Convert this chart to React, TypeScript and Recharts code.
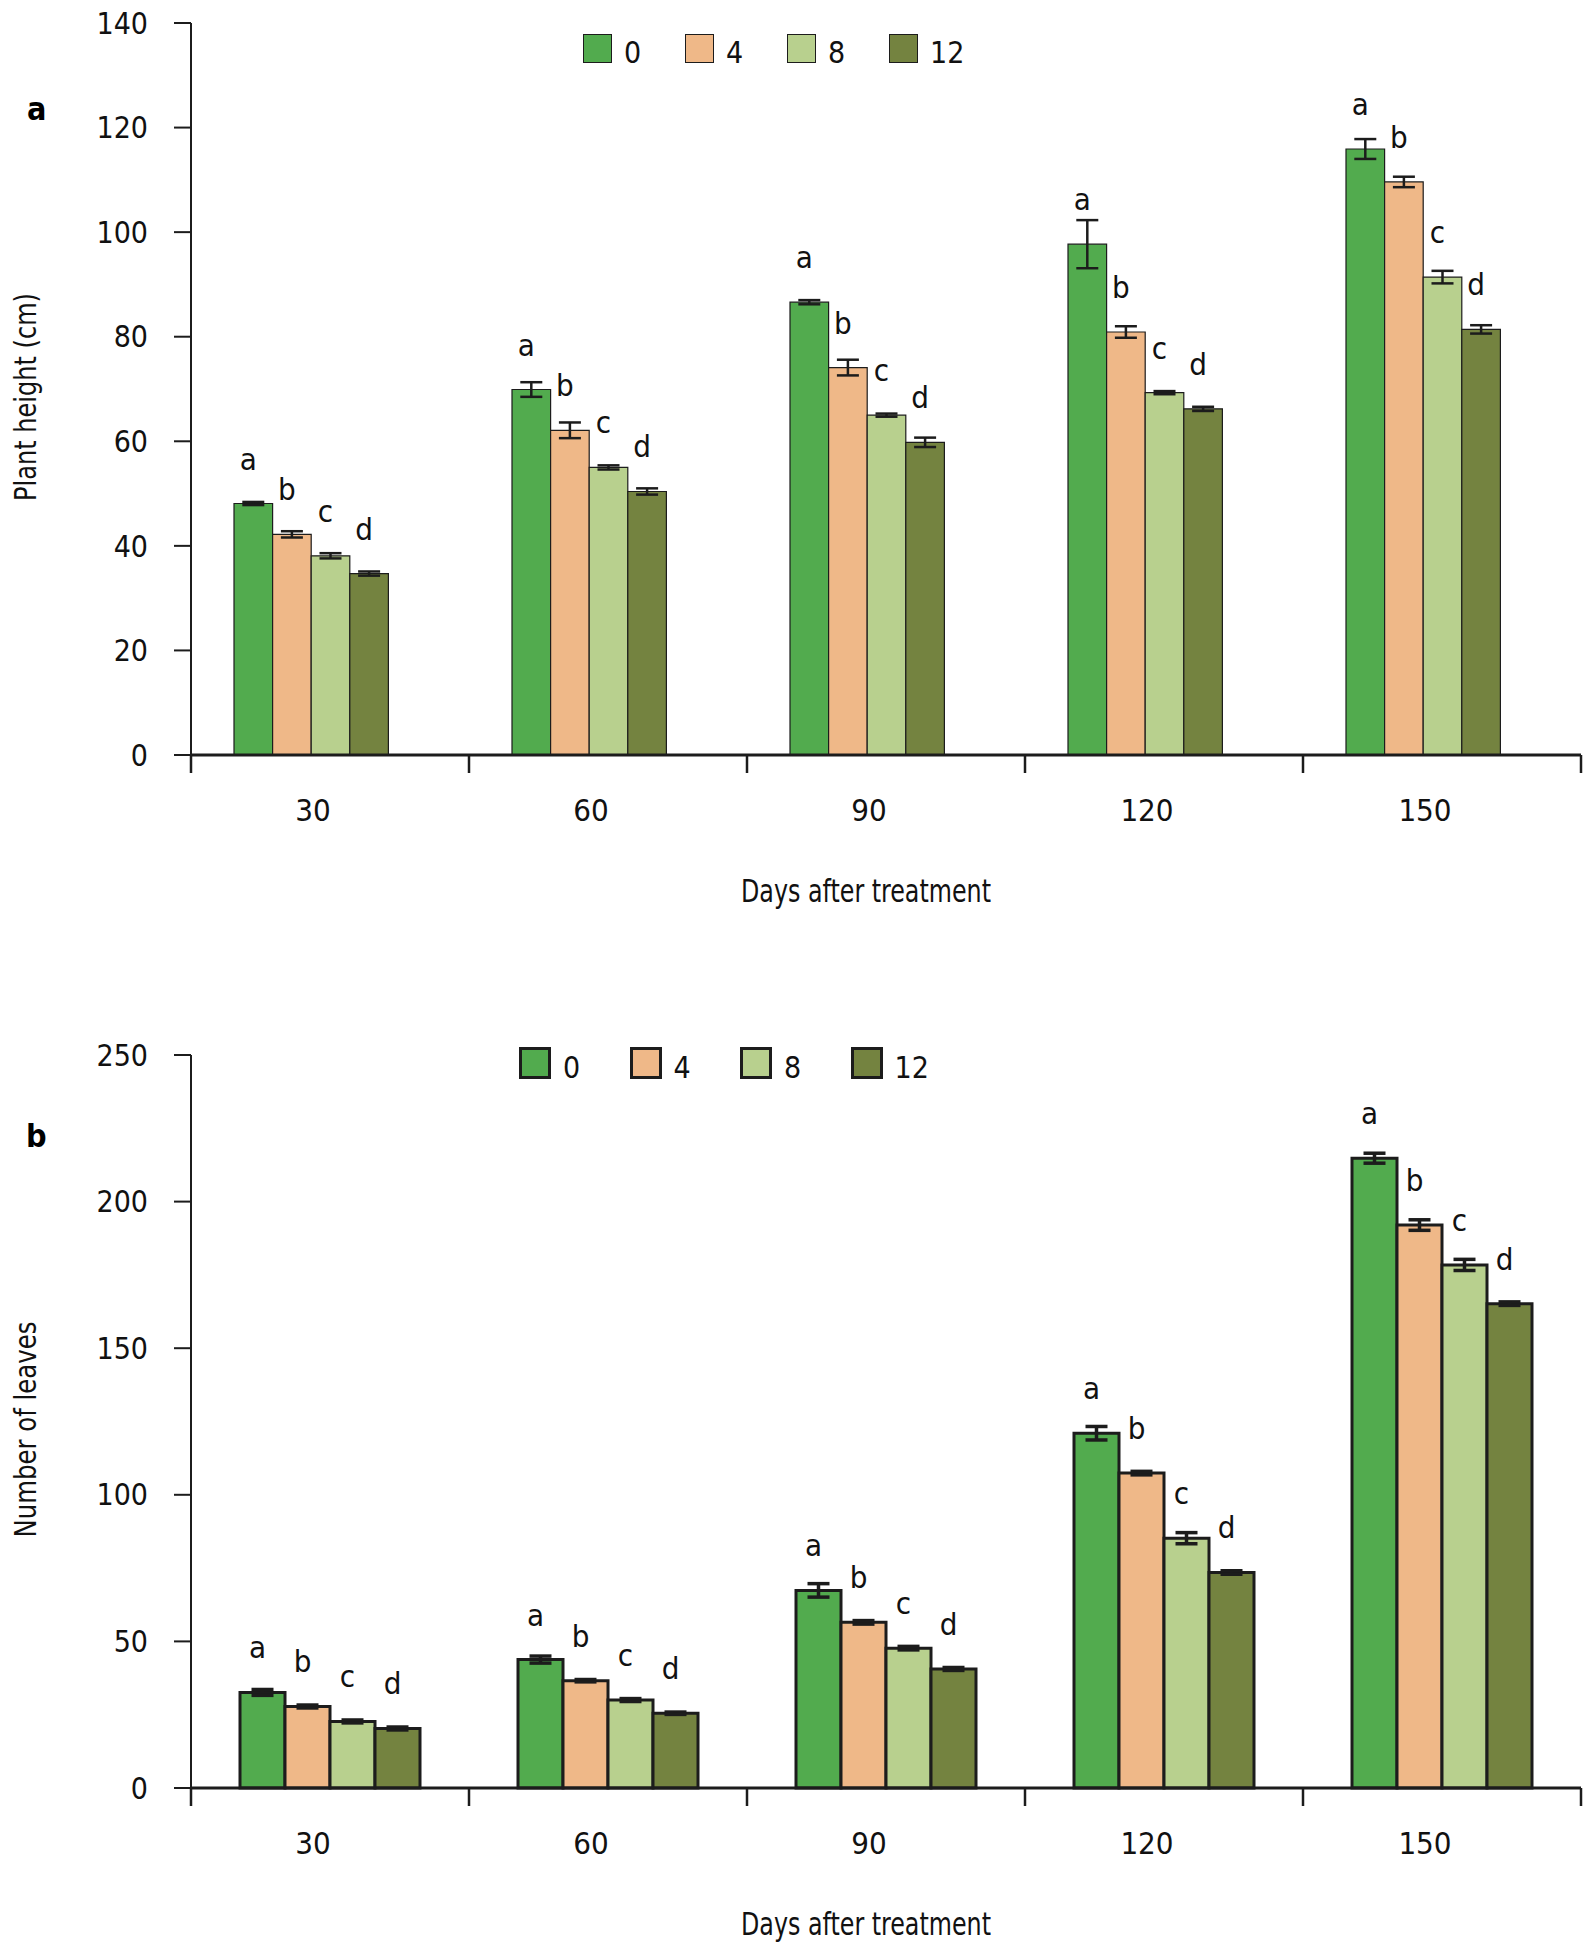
import React from "react";
import { BarChart, Bar, XAxis, YAxis, ErrorBar, LabelList, Label } from "recharts";

const DAYS = ["30", "60", "90", "120", "150"];

// plant height (cm), per salt level
const HEIGHT_0 = [48.1, 69.9, 86.6, 97.7, 115.9];
const HEIGHT_4 = [42.2, 62.1, 74.1, 80.9, 109.6];
const HEIGHT_8 = [38.1, 55.0, 65.0, 69.3, 91.4];
const HEIGHT_12 = [34.7, 50.4, 59.8, 66.2, 81.4];
const HEIGHT_0_SE = [0.3, 1.4, 0.4, 4.6, 1.9];
const HEIGHT_4_SE = [0.6, 1.5, 1.5, 1.1, 1.0];
const HEIGHT_8_SE = [0.5, 0.4, 0.3, 0.3, 1.2];
const HEIGHT_12_SE = [0.4, 0.6, 0.9, 0.4, 0.8];
const HEIGHT_TICKS = [0, 20, 40, 60, 80, 100, 120, 140];

// number of leaves
const LEAVES_0 = [32.6, 43.8, 67.4, 121.0, 214.8];
const LEAVES_4 = [27.8, 36.6, 56.5, 107.4, 192.0];
const LEAVES_8 = [22.7, 30.0, 47.7, 85.2, 178.4];
const LEAVES_12 = [20.3, 25.5, 40.6, 73.5, 165.2];
const LEAVES_0_SE = [1.0, 1.2, 2.3, 2.3, 1.7];
const LEAVES_4_SE = [0.5, 0.4, 0.6, 0.6, 1.8];
const LEAVES_8_SE = [0.5, 0.5, 0.6, 1.9, 1.9];
const LEAVES_12_SE = [0.5, 0.4, 0.5, 0.6, 0.6];
const LEAVES_TICKS = [0, 50, 100, 150, 200, 250];

const LEVELS = ["0", "4", "8", "12"];
const LETTERS = ["a", "b", "c", "d"];
const FILLS = ["#52ab4e", "#efb888", "#b8d08e", "#748340"];

const FONT = "'Liberation Sans Narrow', 'Arial Narrow', 'DejaVu Sans Condensed', sans-serif";
const INK = "#1c1c1c";
const W = 1593;
const PLOT_W = 1390;
const BAND = PLOT_W / DAYS.length;

function buildRows(vals: number[][], errs: number[][]) {
 return DAYS.map((day, i) => {
  const row: Record<string, any> = { day };
  vals.forEach((v, s) => {
   row["v" + s] = v[i];
   row["e" + s] = errs[s][i];
  });
  return row;
 });
}

const heightRows = buildRows(
 [HEIGHT_0, HEIGHT_4, HEIGHT_8, HEIGHT_12],
 [HEIGHT_0_SE, HEIGHT_4_SE, HEIGHT_8_SE, HEIGHT_12_SE]
);
const leafRows = buildRows(
 [LEAVES_0, LEAVES_4, LEAVES_8, LEAVES_12],
 [LEAVES_0_SE, LEAVES_4_SE, LEAVES_8_SE, LEAVES_12_SE]
);

const DayTick = (props: any) => {
 const { x, y, payload, index } = props;
 const half = BAND / 2;
 return (
  <g>
   <line x1={x - half} x2={x - half} y1={y} y2={y + 18} stroke={INK} strokeWidth={2.5} />
   {index === DAYS.length - 1 && (
    <line x1={x + half} x2={x + half} y1={y} y2={y + 18} stroke={INK} strokeWidth={2.5} />
   )}
   <text x={x - 17} y={y + 55} textAnchor="middle" dominantBaseline="central" fontSize={31} fontFamily={FONT} fill="#111">
    {payload.value}
   </text>
  </g>
 );
};

const letterLabel = (letter: string) => (p: any) => (
 <text
  x={Number(p.x) + Number(p.width) / 2 - 5}
  y={Number(p.y) - 34}
  textAnchor="middle"
  fontSize={31}
  fontFamily={FONT}
  fill="#111"
 >
  {letter}
 </text>
);

function LegendRow({ left, top, box, border, pitch }: any) {
 return (
  <div style={{ position: "absolute", left, top, display: "flex", fontFamily: FONT, fontSize: 30, color: "#111" }}>
   {LEVELS.map((lv, i) => (
    <div key={lv} style={{ width: pitch, display: "flex", alignItems: "center" }}>
     <div style={{ width: box - 2 * border, height: box - 2 * border, background: FILLS[i], border: `${border}px solid ${INK}` }} />
     <span style={{ marginLeft: 12, lineHeight: "30px", paddingTop: 10 }}>{lv}</span>
    </div>
   ))}
  </div>
 );
}

function Panel({ rows, ticks, yLabel, yLabelLen, height, margin, barSize, stroke, spacer }: any) {
 return (
  <BarChart width={W} height={height} data={rows} margin={margin} barGap={0} barSize={barSize}>
   <XAxis
    dataKey="day"
    height={60}
    axisLine={{ stroke: INK, strokeWidth: 3 }}
    tickLine={false}
    tickSize={0}
    tickMargin={0}
    tick={<DayTick />}
    interval={0}
   >
    <Label
     content={(p: any) => (
      <text
       x={p.viewBox.x + p.viewBox.width / 2 - 20}
       y={p.viewBox.y + 136}
       textAnchor="middle"
       dominantBaseline="central"
       fontSize={32}
       fontFamily={FONT}
       fill="#111"
       textLength={250}
       lengthAdjust="spacingAndGlyphs"
      >
       Days after treatment
      </text>
     )}
    />
   </XAxis>
   <YAxis
    width={191}
    domain={[0, ticks[ticks.length - 1]]}
    ticks={ticks}
    interval={0}
    axisLine={{ stroke: INK, strokeWidth: 2 }}
    tickLine={{ stroke: INK, strokeWidth: 2 }}
    tickSize={17}
    tickMargin={26}
    tick={{ fill: "#111", fontSize: 30, fontFamily: FONT }}
   >
    <Label
     content={(p: any) => {
      const cy = p.viewBox.y + p.viewBox.height / 2 + 8;
      return (
       <text
        x={25}
        y={cy}
        transform={`rotate(-90 25 ${cy})`}
        textAnchor="middle"
        dominantBaseline="central"
        fontSize={30}
        fontFamily={FONT}
        fill="#111"
        textLength={yLabelLen}
        lengthAdjust="spacingAndGlyphs"
       >
        {yLabel}
       </text>
      );
     }}
    />
   </YAxis>
   {LEVELS.map((lv, s) => (
    <Bar
     key={lv}
     dataKey={"v" + s}
     name={lv}
     fill={FILLS[s]}
     stroke={INK}
     strokeWidth={stroke}
     isAnimationActive={false}
    >
     <ErrorBar dataKey={"e" + s} width={11} stroke={INK} strokeWidth={stroke > 2 ? 3.5 : 2.5} direction="y" />
     <LabelList dataKey={"v" + s} content={letterLabel(LETTERS[s])} />
    </Bar>
   ))}
   {spacer && <Bar dataKey="gap" fill="none" legendType="none" isAnimationActive={false} />}
  </BarChart>
 );
}

export default function App() {
 return (
  <div style={{ position: "absolute", left: 0, top: 0, width: W, height: 1949, background: "#fff" }}>
   <div style={{ position: "absolute", left: 0, top: 0 }}>
    <Panel
     rows={heightRows}
     ticks={HEIGHT_TICKS}
     yLabel="Plant height (cm)"
     yLabelLen={208}
     height={960}
     margin={{ top: 23, right: 12, bottom: 145, left: 0 }}
     barSize={38.6}
     stroke={1.2}
     spacer
    />
   </div>
   <div style={{ position: "absolute", left: 0, top: 970 }}>
    <Panel
     rows={leafRows}
     ticks={LEAVES_TICKS}
     yLabel="Number of leaves"
     yLabelLen={216}
     height={979}
     margin={{ top: 85, right: 12, bottom: 101, left: 0 }}
     barSize={45}
     stroke={3}
    />
   </div>
   <LegendRow left={583} top={28} box={29} border={1} pitch={102} />
   <LegendRow left={519} top={1043} box={32} border={3} pitch={110.5} />
   <div style={{ position: "absolute", left: 27, top: 90, fontFamily: FONT, fontWeight: "bold", fontSize: 32 }}>a</div>
   <div style={{ position: "absolute", left: 26, top: 1117, fontFamily: FONT, fontWeight: "bold", fontSize: 32 }}>b</div>
  </div>
 );
}
